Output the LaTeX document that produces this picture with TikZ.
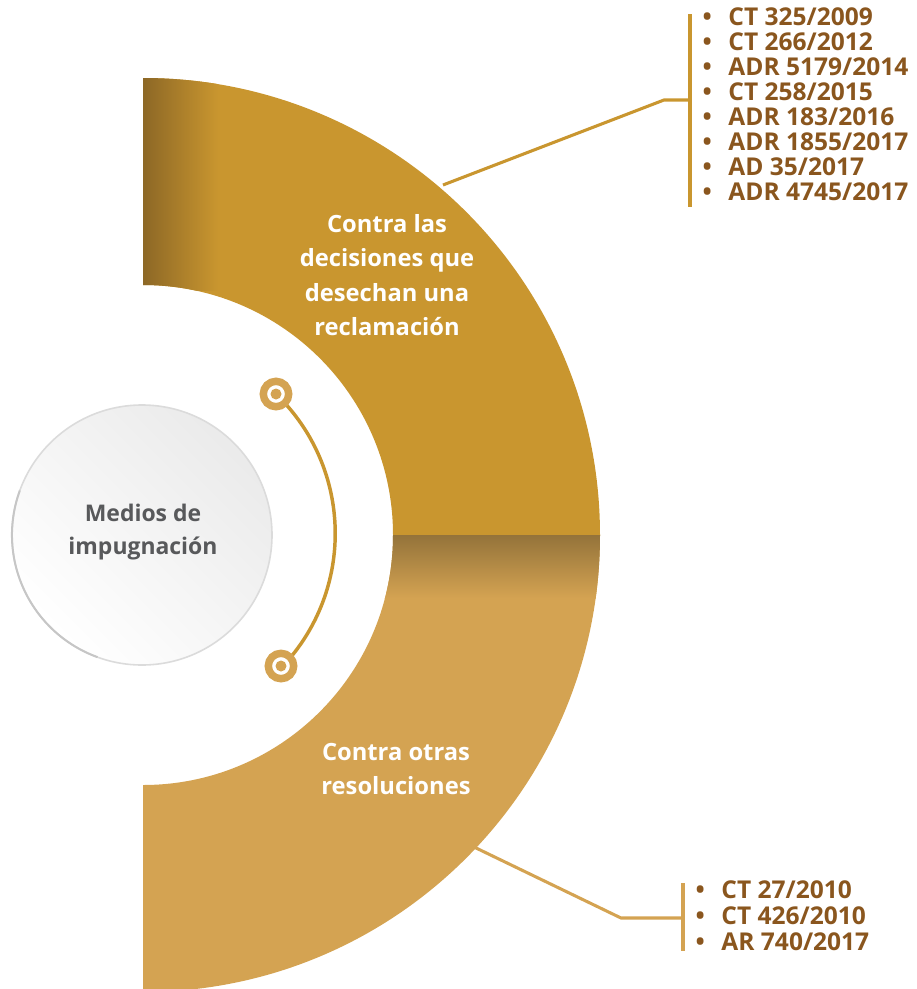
\documentclass[tikz,border=0pt]{standalone}
\usepackage{fontspec}
\setmainfont{Open Sans}
\definecolor{bandgold}{RGB}{201,150,47}
\definecolor{banddark}{RGB}{140,103,38}
\definecolor{bandlight}{RGB}{212,163,82}
\definecolor{bandshade}{RGB}{148,115,58}
\definecolor{itembrown}{RGB}{138,86,30}
\definecolor{hubgray}{RGB}{88,89,91}
\tikzset{every picture/.style={line width=0.75pt}}
\tikzset{
  bandtext/.style={text=white, font=\fontsize{17.8}{25.9}\selectfont\bfseries, align=center, inner sep=0.75pt},
  itemtext/.style={text=itembrown, font=\fontsize{18.4}{18}\selectfont\bfseries, anchor=base west, inner sep=0pt},
  leader/.style={line width=2.3pt},
  ringmark/.style={draw=bandlight, fill=white, line width=5.6pt}
}
\begin{document}
\begin{tikzpicture}[x=0.75pt,y=0.75pt,yscale=-1,xscale=1]
\useasboundingbox (0,0) rectangle (917,989);

\begin{scope}
\clip (143,78) arc[start angle=-90, end angle=0, radius=457] -- (393,535) arc[start angle=0, end angle=-90, radius=250] -- cycle;
\fill [bandgold] (143,70) rectangle (610,540);
\shade [left color=banddark, right color=bandgold] (142,70) rectangle (218,290);
\end{scope}

\begin{scope}
\clip (600,535) arc[start angle=0, end angle=90, radius=457] -- (143,785) arc[start angle=90, end angle=0, radius=250] -- cycle;
\fill [bandlight] (140,535) rectangle (610,995);
\shade [top color=bandshade, bottom color=bandlight] (380,535) rectangle (610,598);
\end{scope}

\shade [top color=gray!16, bottom color=white, shading angle=-45] (142,535) circle (130);
\draw [gray!28, line width=1.2pt] (142,535) circle (130);
\draw [gray!45, line width=1.5pt] (142,535) ++(110:130) arc[start angle=110, end angle=200, radius=130];
\node (hub) [text=hubgray, font=\fontsize{17.2}{24.8}\selectfont\bfseries, align=center] at (143,532) {Medios de\\impugnación};

\coordinate (ringtop) at (276,394);
\coordinate (ringbot) at (281,666);
\draw [bandgold, line width=2.6pt] (ringtop) arc[start angle=-46, end angle=43.5, radius=194];
\draw [ringmark] (ringtop) circle (12.7);
\fill [bandlight] (ringtop) circle (5.5);
\draw [ringmark] (ringbot) circle (12.7);
\fill [bandlight] (ringbot) circle (5.5);

\node (upper) [bandtext] at (387,275) {Contra las\\decisiones que\\desechan una\\reclamación};
\node (lower) [bandtext] at (396,769) {Contra otras\\resoluciones};

\coordinate (upperfoot) at (443,185);
\coordinate (upperbend) at (664,100);
\coordinate (upperbar) at (690,100);
\draw [bandgold, leader] (upperfoot) -- (upperbend) -- (upperbar);
\draw [bandgold, leader] (690,14) -- (690,207);

\foreach \txt [count=\i from 0] in {CT 325/2009, CT 266/2012, ADR 5179/2014, CT 258/2015, ADR 183/2016, ADR 1855/2017, AD 35/2017, ADR 4745/2017}
  \node (topitem\i) [itemtext] at (702,25.5+25*\i) {\makebox[19.5pt][l]{•}\txt};

\coordinate (lowerfoot) at (474,847);
\coordinate (lowerbend) at (621,918);
\coordinate (lowerbar) at (683,918);
\draw [bandlight, leader] (lowerfoot) -- (lowerbend) -- (lowerbar);
\draw [bandlight, leader] (683,883) -- (683,951);

\foreach \txt [count=\i from 0] in {CT 27/2010, CT 426/2010, AR 740/2017}
  \node (lowitem\i) [itemtext] at (695,898.5+25.8*\i) {\makebox[19.5pt][l]{•}\txt};

\end{tikzpicture}
\end{document}
